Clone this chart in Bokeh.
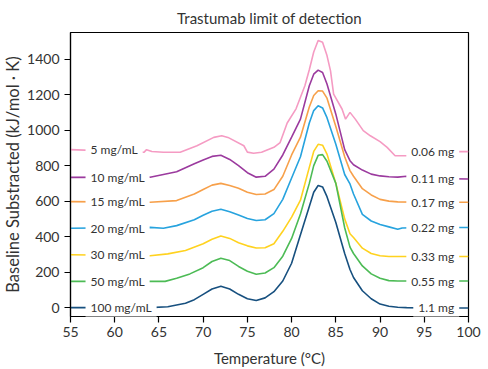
from bokeh.plotting import figure
from bokeh.embed import file_html
from bokeh.resources import INLINE
from bokeh.models import Range1d, FixedTicker, Label

# ---- data ----
t_100 = [55, 64, 66, 68, 69, 70, 71, 72, 73, 74, 75, 76, 77, 78, 79, 80, 81, 82, 82.5, 83, 83.5, 84, 85, 86, 86.6, 87, 88, 89, 90, 91, 92, 93, 95, 100]
v_100 = [0, 0, 5, 25, 45, 75, 105, 120, 105, 75, 50, 40, 55, 90, 150, 250, 410, 570, 650, 688, 680, 625, 480, 305, 215, 170, 95, 50, 20, 8, 2, 0, -2, -2]

t_50 = [55, 64, 65.7, 67, 68.5, 70, 71, 72, 73, 74, 75, 76, 77, 78, 79, 80, 81, 82, 82.5, 83, 83.5, 84, 85, 86, 86.6, 87, 88, 89, 90, 91, 92, 95, 100]
v_50 = [148, 148, 148, 165, 190, 225, 260, 278, 265, 232, 205, 188, 195, 225, 290, 390, 528, 700, 800, 858, 862, 825, 700, 450, 341, 305, 235, 190, 165, 152, 150, 150, 150]

t_30 = [55, 64, 66, 68, 70, 71, 72, 73, 74, 75, 76, 77, 78, 79, 80, 81, 82, 82.5, 83, 83.5, 84, 85, 86, 86.6, 87, 88, 89, 90, 91, 95, 100]
v_30 = [298, 292, 303, 322, 360, 385, 403, 390, 366, 348, 336, 337, 360, 430, 510, 605, 790, 880, 920, 915, 865, 700, 500, 416, 395, 335, 305, 292, 288, 288, 288]

t_20 = [55, 64, 65.5, 67, 69, 70, 71, 72, 73, 74, 75, 76, 77, 78, 79, 80, 81, 82, 82.5, 83, 83.5, 84, 85, 86, 86.6, 87, 88, 89, 90, 91, 92, 92.5, 95, 100]
v_20 = [447, 452, 447, 462, 495, 520, 543, 554, 540, 522, 502, 491, 495, 530, 610, 730, 850, 1040, 1110, 1137, 1125, 1070, 920, 750, 697, 640, 525, 488, 468, 455, 441, 449, 451, 451]

t_15 = [55, 64, 67, 69, 70, 71, 72, 73, 74, 75, 76, 77, 78, 79, 80, 81, 82, 82.5, 83, 83.5, 84, 85, 86, 86.6, 87, 88, 89, 90, 91, 92, 95, 100]
v_15 = [597, 594, 603, 640, 665, 690, 700, 688, 672, 650, 637, 640, 665, 740, 860, 960, 1130, 1195, 1222, 1220, 1180, 1020, 850, 772, 740, 670, 635, 610, 600, 596, 594, 594]

t_10 = [55, 64, 67, 69, 70, 71, 72, 73, 74, 75, 76, 77, 78, 79, 80, 81, 82, 82.5, 83, 83.5, 84, 85, 86, 86.6, 87, 88, 89, 90, 91, 92, 93, 95, 100]
v_10 = [734, 735, 765, 810, 832, 852, 858, 835, 800, 760, 735, 740, 780, 860, 960, 1062, 1250, 1315, 1338, 1325, 1260, 1090, 890, 828, 805, 775, 752, 742, 737, 735, 740, 728, 725]

t_5 = [55, 63.3, 63.6, 64.2, 65.5, 67.4, 69.3, 71.2, 72.1, 72.8, 74.6, 75, 75.7, 76.6, 78, 78.7, 79.5, 80.5, 81.5, 82, 82.5, 83, 83.5, 84, 84.4, 84.75, 85.7, 86.1, 86.6, 87.2, 88.1, 88.9, 90, 90.8, 91.7, 93.5, 99, 100]
v_5 = [890, 875, 890, 880, 875, 875, 912, 959, 968, 959, 912, 876, 870, 875, 903, 930, 1040, 1120, 1250, 1340, 1440, 1505, 1495, 1420, 1334, 1203, 1119, 1062, 1100, 1062, 997, 968, 935, 903, 856, 856, 879, 879]

left_labels = ["5 mg/mL", "10 mg/mL", "15 mg/mL", "20 mg/mL", "30 mg/mL", "50 mg/mL", "100 mg/mL"]
right_labels = ["0.06 mg", "0.11 mg", "0.17 mg", "0.22 mg", "0.33 mg", "0.55 mg", "1.1 mg"]
x_ticks = [55, 60, 65, 70, 75, 80, 85, 90, 95, 100]
y_ticks = [0, 200, 400, 600, 800, 1000, 1200, 1400]

series_t = [t_5, t_10, t_15, t_20, t_30, t_50, t_100]
series_v = [v_5, v_10, v_15, v_20, v_30, v_50, v_100]
colors = ["#F59BC3", "#9B3A9E", "#F7A04A", "#27A3DE", "#FFD21F", "#4CBB55", "#17507F"]

FONT = "Lato"
TXT = "#333333"

p = figure(width=488, height=369, output_backend="svg", toolbar_location=None,
           x_range=Range1d(55, 100), y_range=Range1d(-50, 1550),
           min_border_left=70, min_border_right=20, min_border_top=31, min_border_bottom=53)

p.title.text = "Trastumab limit of detection"
p.title.align = "center"
p.title.text_font = FONT
p.title.text_font_size = "15px"
p.title.text_font_style = "normal"
p.title.text_color = TXT
p.title.standoff = 12

p.xgrid.visible = False
p.ygrid.visible = False
p.outline_line_color = "black"
p.outline_line_width = 1.2

for ax in (p.xaxis[0], p.yaxis[0]):
    ax.axis_line_color = "black"
    ax.axis_line_width = 1.2
    ax.major_tick_line_color = "black"
    ax.major_tick_line_width = 1.2
    ax.major_tick_in = 0
    ax.major_tick_out = 6
    ax.minor_tick_line_color = None
    ax.major_label_text_font = FONT
    ax.major_label_text_font_size = "14px"
    ax.major_label_text_color = TXT
    ax.axis_label_text_font = FONT
    ax.axis_label_text_font_style = "normal"
    ax.axis_label_text_color = TXT

p.xaxis[0].ticker = FixedTicker(ticks=x_ticks)
p.yaxis[0].ticker = FixedTicker(ticks=y_ticks)
p.xaxis[0].axis_label = "Temperature (°C)"
p.yaxis[0].axis_label = "Baseline Substracted (kJ/mol · K)"
p.xaxis[0].axis_label_text_font_size = "15px"
p.yaxis[0].axis_label_text_font_size = "16.5px"
p.xaxis[0].major_label_standoff = 4
p.yaxis[0].major_label_standoff = 5
p.xaxis[0].axis_label_standoff = 9
p.yaxis[0].axis_label_standoff = 1

for t, v, c in zip(series_t, series_v, colors):
    p.line(t, v, line_color=c, line_width=1.6)

for lab, v in zip(left_labels, series_v):
    p.add_layout(Label(x=56.7, y=v[0], text=lab, text_align="left", text_baseline="middle",
                       text_font=FONT, text_font_size="12px", text_color=TXT,
                       background_fill_color="white", padding=5))
for lab, v in zip(right_labels, series_v):
    p.add_layout(Label(x=98.95, y=v[-1], text=lab, text_align="right", text_baseline="middle",
                       text_font=FONT, text_font_size="12px", text_color=TXT,
                       background_fill_color="white", padding=5))

open("out.html", "w").write(file_html(p, INLINE))
